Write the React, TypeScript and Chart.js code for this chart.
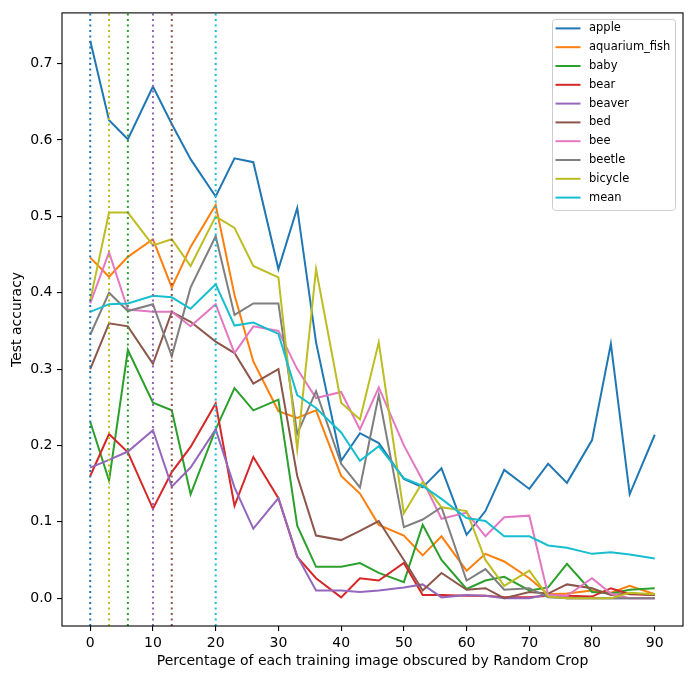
import React, { useEffect, useRef } from 'react';
import Chart from 'chart.js/auto';

const xValues = [0, 3, 6, 10, 13, 16, 20, 23, 26, 30, 33, 36, 40, 43, 46, 50, 53, 56, 60, 63, 66, 70, 73, 76, 80, 83, 86, 90];

const apple = [0.73, 0.626, 0.601, 0.67, 0.621, 0.575, 0.526, 0.576, 0.571, 0.431, 0.511, 0.335, 0.18, 0.216, 0.203, 0.156, 0.145, 0.17, 0.083, 0.114, 0.168, 0.143, 0.176, 0.151, 0.207, 0.333, 0.136, 0.214];
const aquariumFish = [0.446, 0.421, 0.447, 0.47, 0.407, 0.46, 0.515, 0.397, 0.31, 0.245, 0.236, 0.246, 0.16, 0.137, 0.096, 0.082, 0.056, 0.081, 0.036, 0.058, 0.048, 0.026, 0.005, 0.006, 0.01, 0.007, 0.016, 0.005];
const baby = [0.231, 0.154, 0.325, 0.256, 0.246, 0.136, 0.221, 0.275, 0.246, 0.26, 0.095, 0.041, 0.041, 0.046, 0.033, 0.021, 0.096, 0.05, 0.012, 0.023, 0.028, 0.01, 0.014, 0.045, 0.008, 0.006, 0.011, 0.013];
const bear = [0.16, 0.215, 0.191, 0.117, 0.165, 0.198, 0.255, 0.121, 0.185, 0.131, 0.054, 0.026, 0.001, 0.026, 0.023, 0.046, 0.004, 0.004, 0.003, 0.003, 0.001, 0.001, 0.003, 0.003, 0.002, 0.013, 0.005, 0.004];
const beaver = [0.171, 0.181, 0.192, 0.22, 0.146, 0.171, 0.221, 0.145, 0.091, 0.131, 0.055, 0.01, 0.01, 0.008, 0.01, 0.014, 0.018, 0.001, 0.004, 0.003, 0.0, 0.0, 0.005, 0.0, 0.0, 0.0, 0.0, 0.0];
const bed = [0.3, 0.36, 0.356, 0.307, 0.375, 0.362, 0.336, 0.321, 0.281, 0.3, 0.16, 0.082, 0.076, 0.088, 0.101, 0.05, 0.01, 0.033, 0.011, 0.013, 0.0, 0.008, 0.006, 0.018, 0.013, 0.004, 0.006, 0.004];
const bee = [0.386, 0.453, 0.378, 0.375, 0.375, 0.356, 0.385, 0.321, 0.356, 0.35, 0.3, 0.262, 0.27, 0.221, 0.276, 0.2, 0.154, 0.104, 0.112, 0.081, 0.106, 0.108, 0.004, 0.003, 0.026, 0.006, 0.0, 0.0];
const beetle = [0.345, 0.4, 0.376, 0.385, 0.317, 0.407, 0.474, 0.371, 0.386, 0.386, 0.215, 0.271, 0.176, 0.145, 0.266, 0.093, 0.103, 0.119, 0.023, 0.038, 0.011, 0.013, 0.001, 0.0, 0.0, 0.0, 0.0, 0.0];
const bicycle = [0.39, 0.505, 0.505, 0.462, 0.47, 0.435, 0.5, 0.485, 0.435, 0.42, 0.195, 0.431, 0.256, 0.234, 0.335, 0.111, 0.152, 0.119, 0.114, 0.05, 0.016, 0.036, 0.002, 0.0, 0.0, 0.0, 0.007, 0.005];
const mean = [0.375, 0.385, 0.386, 0.396, 0.394, 0.379, 0.411, 0.357, 0.361, 0.346, 0.266, 0.249, 0.217, 0.18, 0.199, 0.157, 0.147, 0.13, 0.105, 0.101, 0.081, 0.081, 0.069, 0.066, 0.058, 0.06, 0.057, 0.052];

const seriesNames = ['apple', 'aquarium_fish', 'baby', 'bear', 'beaver', 'bed', 'bee', 'beetle', 'bicycle', 'mean'];
const seriesValues = [apple, aquariumFish, baby, bear, beaver, bed, bee, beetle, bicycle, mean];
const seriesColors = ['#1f77b4', '#ff7f0e', '#2ca02c', '#d62728', '#9467bd', '#8c564b', '#e377c2', '#7f7f7f', '#bcbd22', '#17becf'];

// dotted markers at the best x of some series
const peakX = [0, 3, 6, 10, 13, 20];
const peakColors = ['#1f77b4', '#bcbd22', '#2ca02c', '#9467bd', '#8c564b', '#17becf'];

const xTicks = [0, 10, 20, 30, 40, 50, 60, 70, 80, 90];
const yTicks = [0, 0.1, 0.2, 0.3, 0.4, 0.5, 0.6, 0.7];
const xMin = -4.5, xMax = 94.5;
const yMin = -0.0365, yMax = 0.7665;

const FONT = 'DejaVu Sans';

const frameAndLegend = {
  id: 'frameAndLegend',
  afterDraw(chart: any) {
    const { ctx, chartArea } = chart;
    ctx.save();
    ctx.strokeStyle = '#000';
    ctx.lineWidth = 1.1;
    ctx.strokeRect(chartArea.left, chartArea.top, chartArea.right - chartArea.left, chartArea.bottom - chartArea.top);

    // legend box, upper right
    const boxW = 123, boxH = 191;
    const bx = chartArea.right - 8 - boxW, by = chartArea.top + 6;
    ctx.fillStyle = 'rgba(255,255,255,0.8)';
    ctx.strokeStyle = '#cccccc';
    ctx.lineWidth = 1;
    ctx.beginPath();
    ctx.roundRect(bx + 0.5, by + 0.5, boxW, boxH, 3);
    ctx.fill();
    ctx.stroke();

    ctx.font = `11.5px "${FONT}"`;
    ctx.textBaseline = 'middle';
    ctx.textAlign = 'left';
    seriesNames.forEach((name, i) => {
      const y = by + 9.5 + i * 18.8;
      ctx.strokeStyle = seriesColors[i];
      ctx.lineWidth = 2;
      ctx.beginPath();
      ctx.moveTo(bx + 3.5, y);
      ctx.lineTo(bx + 28.5, y);
      ctx.stroke();
      ctx.fillStyle = '#000';
      ctx.fillText(name, bx + 37, y);
    });
    ctx.restore();
  },
};

export default function App() {
  const canvasRef = useRef<HTMLCanvasElement | null>(null);

  useEffect(() => {
    if (!canvasRef.current) return;

    const lineSets = seriesNames.map((name, i) => ({
      label: name,
      data: xValues.map((x, j) => ({ x, y: seriesValues[i][j] })),
      borderColor: seriesColors[i],
      backgroundColor: seriesColors[i],
      borderWidth: 2,
      pointRadius: 0,
      tension: 0,
      order: seriesNames.length - i + 1,
    }));

    const markerSets = peakX.map((x, i) => ({
      label: `peak-${i}`,
      data: [{ x, y: yMin }, { x, y: yMax }],
      borderColor: peakColors[i],
      backgroundColor: peakColors[i],
      borderWidth: 2,
      borderDash: [2, 3.5],
      borderCapStyle: 'butt' as const,
      pointRadius: 0,
      order: 0,
    }));

    const tickFont = { family: FONT, size: 14 };

    const chart = new Chart(canvasRef.current, {
      type: 'line',
      data: { datasets: [...lineSets, ...markerSets] },
      plugins: [frameAndLegend],
      options: {
        animation: false,
        responsive: true,
        maintainAspectRatio: false,
        events: [],
        layout: { padding: { top: 10, right: 8, left: 0, bottom: 0 } },
        plugins: {
          legend: { display: false },
          tooltip: { enabled: false },
        },
        scales: {
          x: {
            type: 'linear',
            min: xMin,
            max: xMax,
            afterBuildTicks: (scale: any) => {
              scale.ticks = xTicks.map((v) => ({ value: v }));
            },
            afterFit: (scale: any) => {
              scale.height = 53;
            },
            grid: { drawOnChartArea: false, drawTicks: true, tickLength: 5, color: '#000', lineWidth: 1.1 },
            border: { display: false },
            ticks: { color: '#000', font: tickFont, padding: 4, maxRotation: 0, autoSkip: false, callback: (v: any) => String(v) },
            title: {
              display: true,
              text: 'Percentage of each training image obscured by Random Crop',
              color: '#000',
              font: tickFont,
              padding: { top: 0, bottom: 9.6 },
            },
          },
          y: {
            type: 'linear',
            min: yMin,
            max: yMax,
            afterBuildTicks: (scale: any) => {
              scale.ticks = yTicks.map((v) => ({ value: v }));
            },
            afterFit: (scale: any) => {
              scale.width = 62;
            },
            grid: { drawOnChartArea: false, drawTicks: true, tickLength: 5, color: '#000', lineWidth: 1.1 },
            border: { display: false },
            ticks: { color: '#000', font: tickFont, padding: 4.5, autoSkip: false, callback: (v: any) => Number(v).toFixed(1) },
            title: {
              display: true,
              text: 'Test accuracy',
              color: '#000',
              font: tickFont,
              padding: { top: 8.6, bottom: 0 },
            },
          },
        },
      },
    });

    return () => chart.destroy();
  }, []);

  return (
    <div style={{ position: 'absolute', left: 0, top: 0, width: 691, height: 679, background: '#fff' }}>
      <canvas ref={canvasRef} />
    </div>
  );
}
